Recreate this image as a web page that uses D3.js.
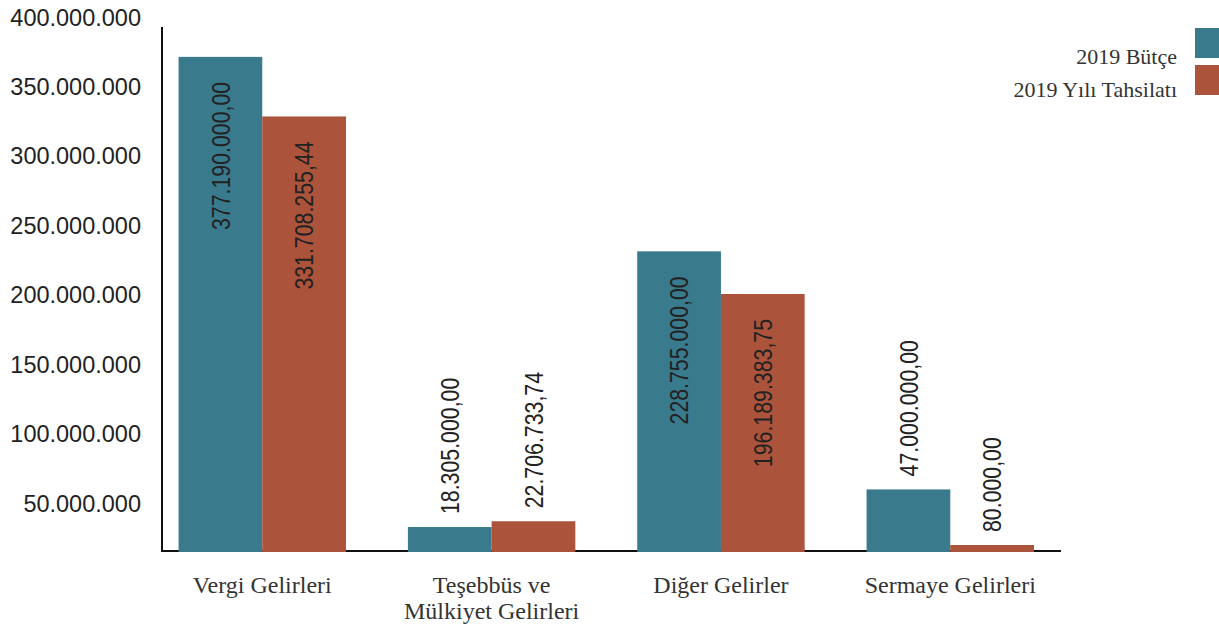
<!DOCTYPE html>
<html lang="tr">
<head>
    <meta charset="UTF-8">
    <title>2019 Bütçe ve Tahsilat</title>
    <script src="https://d3js.org/d3.v7.min.js"></script>
    <style>
        body { margin: 0; background: #fff; }
        svg { display: block; }
        .tick text { font-family: "Liberation Sans", Arial, sans-serif; font-size: 23.5px; fill: #222; }
        .cat { font-family: "Liberation Serif", "Times New Roman", serif; font-size: 24px; fill: #333; }
        .legend text { font-family: "Liberation Serif", "Times New Roman", serif; font-size: 22px; fill: #333; }
        .val { font-family: "Liberation Sans", Arial, sans-serif; font-size: 26px; fill: #222; }
    </style>
</head>
<body>
<svg width="1219" height="624"></svg>
<script>
    // veriler
    const categories = ["Vergi Gelirleri", "Teşebbüs ve Mülkiyet Gelirleri", "Diğer Gelirler", "Sermaye Gelirleri"];
    const seriesNames = ["2019 Bütçe", "2019 Yılı Tahsilatı"];
    const butce = [377190000.00, 18305000.00, 228755000.00, 47000000.00];
    const tahsilat = [331708255.44, 22706733.74, 196189383.75, 80000.00];
    const yTicks = [50000000, 100000000, 150000000, 200000000, 250000000, 300000000, 350000000, 400000000];
    const colors = ["#397a8c", "#ab533b"];

    const tr = d3.formatLocale({ decimal: ",", thousands: ".", grouping: [3], currency: ["", " TL"] });
    const fmtTick = tr.format(",.0f");
    const fmtVal = tr.format(",.2f");

    const svg = d3.select("svg");

    const x0 = d3.scaleBand()
        .domain(categories)
        .range([162, 1061])
        .paddingInner(0.27)
        .paddingOuter(0.095)
        .align(0.38);

    const x1 = d3.scaleBand()
        .domain(seriesNames)
        .range([0, x0.bandwidth()]);

    // bar yükseklikleri
    const y = d3.scaleLinear()
        .domain([0, 400000000])
        .range([551, 27]);

    // eksen etiketleri (orijinalde çubuklardan biraz farklı aralıkla)
    const yLabel = d3.scaleLinear()
        .domain([0, 400000000])
        .range([573, 17.5]);

    const rows = categories.map((c, i) => ({
        cat: c,
        vals: [butce[i], tahsilat[i]].map((v, j) => ({ name: seriesNames[j], value: v, color: colors[j] }))
    }));

    // y ekseni yazıları
    svg.append("g")
        .attr("transform", "translate(141,0)")
        .call(d3.axisLeft(yLabel).tickValues(yTicks).tickFormat(fmtTick).tickSize(0).tickPadding(0))
        .call(g => g.select(".domain").remove());

    // eksen çizgileri
    svg.append("line")
        .attr("x1", x0.range()[0]).attr("x2", x0.range()[0])
        .attr("y1", y(400000000)).attr("y2", y(0) + 1)
        .attr("stroke", "#111").attr("stroke-width", 2);

    svg.append("line")
        .attr("x1", x0.range()[0]).attr("x2", x0.range()[1])
        .attr("y1", y(0)).attr("y2", y(0))
        .attr("stroke", "#111").attr("stroke-width", 2);

    const groups = svg.selectAll("g.grp")
        .data(rows)
        .join("g")
        .attr("class", "grp")
        .attr("transform", d => `translate(${x0(d.cat)},0)`);

    const barTop = d => Math.min(y(d.value), y(0) - 6);

    groups.selectAll("rect")
        .data(d => d.vals)
        .join("rect")
        .attr("x", d => x1(d.name))
        .attr("y", barTop)
        .attr("width", x1.bandwidth())
        .attr("height", d => y(0) - barTop(d) + 1)
        .attr("fill", d => d.color);

    // değer etiketleri (dar yazı)
    groups.selectAll("text.val")
        .data(d => d.vals)
        .join("text")
        .attr("class", "val")
        .attr("transform", d => {
            const cx = x1(d.name) + x1.bandwidth() / 2;
            const inside = d.value > 150000000;
            const ty = inside ? barTop(d) + 25 : barTop(d) - 13;
            return `translate(${cx},${ty}) rotate(-90) scale(0.82,1)`;
        })
        .attr("dy", "0.36em")
        .attr("text-anchor", d => d.value > 150000000 ? "end" : "start")
        .text(d => fmtVal(d.value));

    // kategori etiketleri
    const cats = svg.selectAll("text.cat")
        .data(categories)
        .join("text")
        .attr("class", "cat")
        .attr("x", d => x0(d) + x0.bandwidth() / 2)
        .attr("y", 593)
        .attr("text-anchor", "middle")
        .text(d => d);

    cats.each(function () { wrap(d3.select(this), 195); });

    function wrap(text, width) {
        const words = text.text().split(/\s+/);
        const xPos = text.attr("x");
        let line = [];
        text.text(null);
        let tspan = text.append("tspan").attr("x", xPos);
        words.forEach(w => {
            line.push(w);
            tspan.text(line.join(" "));
            if (tspan.node().getComputedTextLength() > width && line.length > 1) {
                line.pop();
                tspan.text(line.join(" "));
                line = [w];
                tspan = text.append("tspan").attr("x", xPos).attr("dy", "1.1em").text(w);
            }
        });
    }

    // lejant
    const legend = svg.append("g").attr("class", "legend");
    const li = legend.selectAll("g")
        .data(seriesNames)
        .join("g")
        .attr("transform", (d, i) => `translate(0,${28 + i * 37})`);

    li.append("rect")
        .attr("x", 1195).attr("y", 0)
        .attr("width", 30).attr("height", 30)
        .attr("fill", (d, i) => colors[i]);

    li.append("text")
        .attr("x", 1177).attr("y", (d, i) => 36 - i * 4)
        .attr("text-anchor", "end")
        .text(d => d);
</script>
</body>
</html>
